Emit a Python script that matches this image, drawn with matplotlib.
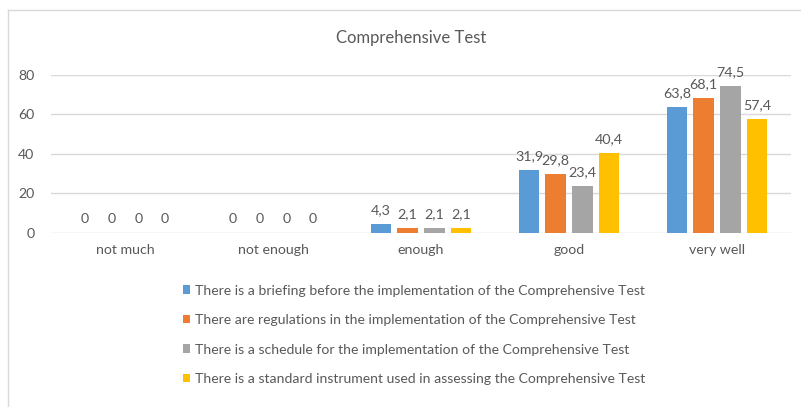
import matplotlib.pyplot as plt
from matplotlib.lines import Line2D
from matplotlib.patches import Patch
import numpy as np

categories = ['not much', 'not enough', 'enough', 'good', 'very well']
series_names = [
    'There is a briefing before the implementation of the Comprehensive Test',
    'There are regulations in the implementation of the Comprehensive Test',
    'There is a schedule for the implementation of the Comprehensive Test',
    'There is a standard instrument used in assessing the Comprehensive Test',
]
briefing = [0, 0, 4.3, 31.9, 63.8]
regulations = [0, 0, 2.1, 29.8, 68.1]
schedule = [0, 0, 2.1, 23.4, 74.5]
instrument = [0, 0, 2.1, 40.4, 57.4]
colors = ['#5b9bd5', '#ed7d31', '#a5a5a5', '#ffc000']

plt.rcParams['font.family'] = ['Lato', 'DejaVu Sans']
txt = '#595959'

fig = plt.figure(figsize=(8.01, 4.07), dpi=100)
ax = fig.add_axes([51 / 801, 1 - 232.5 / 407, 740 / 801, 157.5 / 407])

x = np.arange(len(categories))
stride = 0.18
width = 0.138
for i, (vals, c) in enumerate(zip([briefing, regulations, schedule, instrument], colors)):
    pos = x + (i - 1.5) * stride
    ax.bar(pos, vals, width, color=c, zorder=3)
    for p, v in zip(pos, vals):
        lab = ('%g' % v).replace('.', ',')
        ax.text(p, v + 4, lab, ha='center', va='bottom', fontsize=10.3,
                color=txt, clip_on=False)

ax.set_xlim(-0.5, len(categories) - 0.5)
ax.set_ylim(0, 80)
ax.set_yticks([0, 20, 40, 60, 80])
ax.set_xticks(x)
ax.set_xticklabels(categories)
ax.yaxis.grid(True, color='#d9d9d9', linewidth=1, zorder=0)
for s in ax.spines.values():
    s.set_visible(False)
ax.tick_params(length=0, colors=txt, labelsize=10.2)
ax.tick_params(axis='x', pad=8)
ax.tick_params(axis='y', pad=12)

fig.text(411 / 801, 1 - 38 / 407, 'Comprehensive Test', ha='center', va='center',
         fontsize=12, color=txt)

handles = [Patch(facecolor=c) for c in colors]
fig.legend(handles, series_names, loc='upper left',
           bbox_to_anchor=(177 / 801, 1 - 279 / 407), frameon=False,
           fontsize=10.1, labelcolor=txt, handlelength=0.55, handleheight=0.55,
           handletextpad=0.35, labelspacing=1.25, borderaxespad=0)

# border of the cropped chart area
fig.add_artist(Line2D([8 / 801, 8 / 801], [0, 1 - 10 / 407], color='#d9d9d9', lw=1))
fig.add_artist(Line2D([8 / 801, 1], [1 - 10 / 407, 1 - 10 / 407], color='#d9d9d9', lw=1))

fig.savefig('out.png', dpi=100)
